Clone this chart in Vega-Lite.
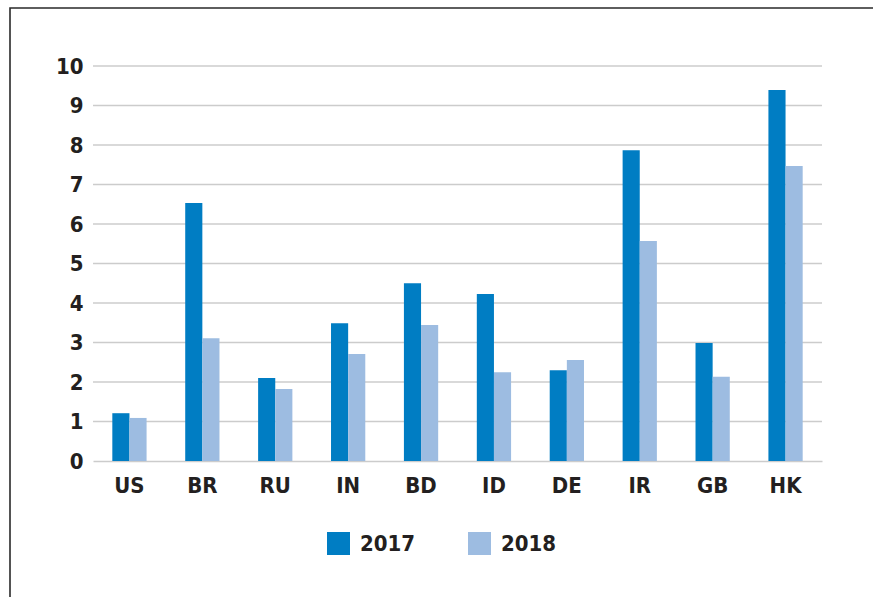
{
  "$schema": "https://vega.github.io/schema/vega-lite/v6.json",
  "width": 864,
  "height": 590,
  "autosize": "none",
  "padding": {"left": 10, "top": 8, "right": 0, "bottom": 0},
  "background": "white",
  "config": {
    "view": {"stroke": "#2a2a2a", "strokeWidth": 1.6},
    "font": "DejaVu Sans Condensed, Roboto, sans-serif"
  },
  "datasets": {
    "bars": [
      {"country": "US", "year": "2017", "value": 1.21},
      {"country": "US", "year": "2018", "value": 1.09},
      {"country": "BR", "year": "2017", "value": 6.53},
      {"country": "BR", "year": "2018", "value": 3.11},
      {"country": "RU", "year": "2017", "value": 2.1},
      {"country": "RU", "year": "2018", "value": 1.82},
      {"country": "IN", "year": "2017", "value": 3.49},
      {"country": "IN", "year": "2018", "value": 2.71},
      {"country": "BD", "year": "2017", "value": 4.5},
      {"country": "BD", "year": "2018", "value": 3.44},
      {"country": "ID", "year": "2017", "value": 4.23},
      {"country": "ID", "year": "2018", "value": 2.25},
      {"country": "DE", "year": "2017", "value": 2.3},
      {"country": "DE", "year": "2018", "value": 2.56},
      {"country": "IR", "year": "2017", "value": 7.87},
      {"country": "IR", "year": "2018", "value": 5.57},
      {"country": "GB", "year": "2017", "value": 2.99},
      {"country": "GB", "year": "2018", "value": 2.13},
      {"country": "HK", "year": "2017", "value": 9.39},
      {"country": "HK", "year": "2018", "value": 7.47}
    ],
    "grid": [
      {"v": 1}, {"v": 2}, {"v": 3}, {"v": 4}, {"v": 5},
      {"v": 6}, {"v": 7}, {"v": 8}, {"v": 9}, {"v": 10}
    ]
  },
  "layer": [
    {
      "data": {"name": "grid"},
      "mark": {"type": "rule", "color": "#cccccc", "strokeWidth": 1.5, "xOffset": -19.3, "x2Offset": 19.3},
      "encoding": {
        "y": {"field": "v", "type": "quantitative"},
        "x": {"datum": "US", "type": "nominal", "bandPosition": 0},
        "x2": {"datum": "HK", "bandPosition": 1}
      }
    },
    {
      "data": {"name": "bars"},
      "mark": {"type": "bar"},
      "encoding": {
        "x": {
          "field": "country",
          "type": "nominal",
          "sort": null,
          "scale": {
            "domain": ["US", "BR", "RU", "IN", "BD", "ID", "DE", "IR", "GB", "HK"],
            "range": [83, 812],
            "paddingInner": 0.53,
            "paddingOuter": 0.265
          },
          "axis": {
            "title": null,
            "orient": "bottom",
            "offset": -137,
            "bandPosition": 0.5,
            "labelAngle": 0,
            "labelAlign": "center",
            "labelBaseline": "top",
            "labelFont": "DejaVu Sans Condensed, Roboto, sans-serif",
            "labelFontSize": 22,
            "labelFontWeight": "bold",
            "labelColor": "#231f20",
            "labelPadding": 14,
            "ticks": false,
            "domain": true,
            "domainColor": "#cccccc",
            "domainWidth": 1.5,
            "grid": false
          }
        },
        "xOffset": {"field": "year", "type": "nominal", "scale": {"paddingInner": 0, "paddingOuter": 0}},
        "y": {
          "field": "value",
          "type": "quantitative",
          "scale": {"domain": [0, 10], "nice": false, "range": [453, 58]},
          "axis": {
            "title": null,
            "orient": "left",
            "offset": -83,
            "values": [0, 1, 2, 3, 4, 5, 6, 7, 8, 9, 10],
            "format": "d",
            "labelFont": "DejaVu Sans Condensed, Roboto, sans-serif",
            "labelFontSize": 22,
            "labelFontWeight": "bold",
            "labelColor": "#231f20",
            "labelPadding": 10,
            "ticks": false,
            "domain": false,
            "grid": false
          }
        },
        "color": {
          "field": "year",
          "type": "nominal",
          "scale": {"domain": ["2017", "2018"], "range": ["#007dc3", "#9dbce1"]},
          "legend": {
            "title": null,
            "orient": "none",
            "direction": "horizontal",
            "legendX": 317,
            "legendY": 524,
            "symbolType": "square",
            "symbolSize": 529,
            "symbolStrokeWidth": 0,
            "labelFont": "DejaVu Sans Condensed, Roboto, sans-serif",
            "labelFontSize": 22,
            "labelFontWeight": "bold",
            "labelColor": "#231f20",
            "labelOffset": 10,
            "columnPadding": 52
          }
        }
      }
    }
  ]
}
